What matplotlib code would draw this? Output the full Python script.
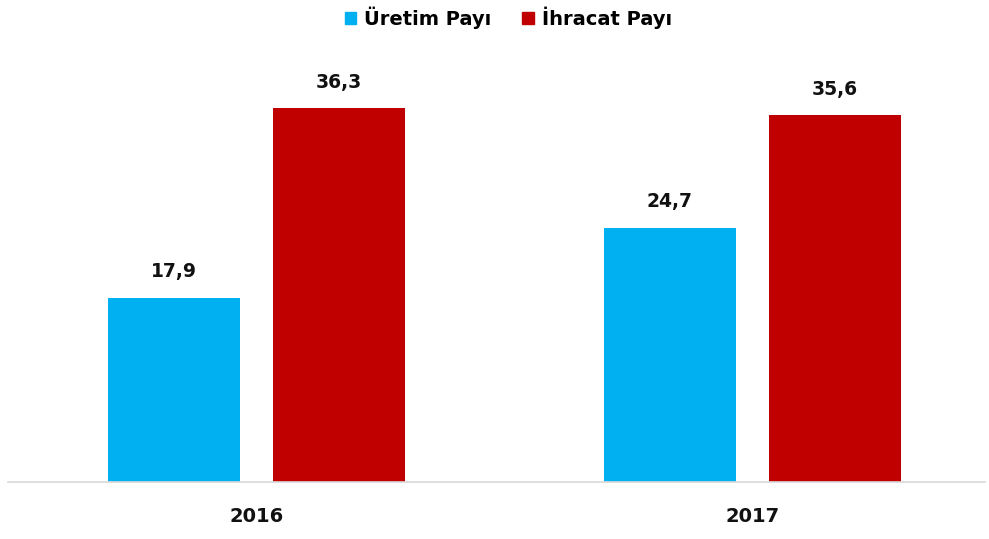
import numpy as np
import matplotlib.pyplot as plt
from matplotlib.patches import Patch

# Veriler
years = ['2016', '2017']
uretim = [17.9, 24.7]
ihracat = [36.3, 35.6]
series_names = ['Üretim Payı', 'İhracat Payı']
colors = ['#00B0F0', '#C00000']

plt.rcParams['font.family'] = ['DejaVu Sans']

fig = plt.figure(figsize=(9.89, 5.39), dpi=100)
ax = fig.add_axes([8 / 989, 57 / 539, 977 / 989, 412 / 539])

x = np.arange(len(years))
w = 0.266
off = 0.1665

b1 = ax.bar(x - off, uretim, w, color=colors[0])
b2 = ax.bar(x + off, ihracat, w, color=colors[1])

# Etiketler
for bars in (b1, b2):
    for b in bars:
        h = b.get_height()
        ax.text(b.get_x() + b.get_width() / 2, h + 2.0, f'{h:.1f}'.replace('.', ','),
                ha='center', va='baseline', fontsize=13.5, fontweight='bold', color='#111111')

ax.set_xlim((8 - 256.5) / 496, (985 - 256.5) / 496)
ax.set_ylim(0, 40)
ax.set_xticks(x)
ax.set_xticklabels(years, fontsize=14, fontweight='bold', color='#111111')
ax.tick_params(axis='x', length=0, pad=18)
ax.set_yticks([])
for s in ['top', 'right', 'left']:
    ax.spines[s].set_visible(False)
ax.spines['bottom'].set_color('#D9D9D9')
ax.spines['bottom'].set_linewidth(1.2)

handles = [Patch(color=c, label=n) for c, n in zip(colors, series_names)]
fig.legend(handles=handles, loc='upper center', bbox_to_anchor=(0.514, 1.02), ncol=2,
           frameon=False, handlelength=0.6, handleheight=0.6, handletextpad=0.4,
           columnspacing=1.6, prop={'size': 14, 'weight': 'bold'})

fig.savefig('out.png', dpi=100)
